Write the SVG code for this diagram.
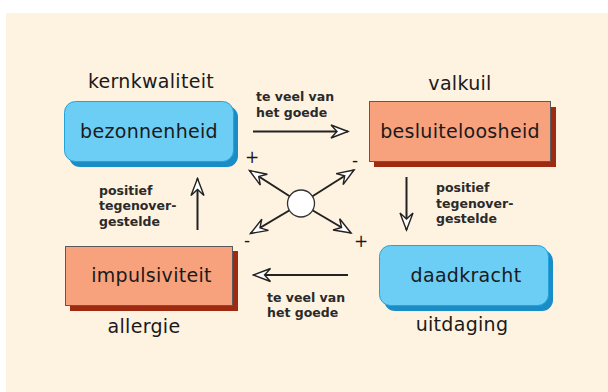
<svg xmlns="http://www.w3.org/2000/svg" width="608" height="392" viewBox="0 0 608 392">
  <style>
    .big { font-family: "DejaVu Sans", Verdana, sans-serif; font-size: 19px; fill: #1a1a1a; text-anchor: middle; letter-spacing: 0.3px; }
    .small { font-family: "DejaVu Sans", Verdana, sans-serif; font-size: 12.5px; font-weight: bold; fill: #2a2a2a; }
    .sign { font-family: "DejaVu Sans", Verdana, sans-serif; font-size: 17px; fill: #1a1a1a; text-anchor: middle; }
    .blue { fill: #6ccdf5; stroke: #22a3dc; stroke-width: 1; }
    .blue-shadow { fill: #1a8cc6; }
    .salmon { fill: #f8a17d; stroke: #5a5a5a; stroke-width: 1; }
    .salmon-shadow { fill: #9e2a12; }
    .conn { stroke: #222; stroke-width: 2; fill: none; marker-end: url(#dart); }
  </style>
  <defs>
    <marker id="dart" viewBox="-19 -9 21 18" refX="0" refY="0" markerWidth="21" markerHeight="18" markerUnits="userSpaceOnUse" orient="auto">
      <path d="M0,0 L-17,-6.5 L-11,0 L-17,6.5 Z" fill="#fff" stroke="#222" stroke-width="1.4" stroke-linejoin="miter"/>
    </marker>
  </defs>

  <!-- background panel -->
  <rect x="6" y="13" width="602" height="379" fill="#fef2e1"/>

  <!-- top-left: core quality -->
  <g id="kernkwaliteit">
    <rect class="blue-shadow" x="69" y="106" width="169" height="61" rx="11"/>
    <rect class="blue" x="64.5" y="101.5" width="169" height="60" rx="11"/>
    <text class="big" x="149" y="138">bezonnenheid</text>
    <text class="big" x="151" y="88">kernkwaliteit</text>
  </g>

  <!-- top-right: pitfall -->
  <g id="valkuil">
    <rect class="salmon-shadow" x="374" y="107" width="182" height="60"/>
    <rect class="salmon" x="369.5" y="101.5" width="181" height="60"/>
    <text class="big" x="460" y="138">besluiteloosheid</text>
    <text class="big" x="460" y="89.5">valkuil</text>
  </g>

  <!-- bottom-left: allergy -->
  <g id="allergie">
    <rect class="salmon-shadow" x="70" y="251" width="168" height="60"/>
    <rect class="salmon" x="65.5" y="246.5" width="167" height="59"/>
    <text class="big" x="151.5" y="282">impulsiviteit</text>
    <text class="big" x="144" y="333">allergie</text>
  </g>

  <!-- bottom-right: challenge -->
  <g id="uitdaging">
    <rect class="blue-shadow" x="384" y="250" width="169" height="61" rx="11"/>
    <rect class="blue" x="379.5" y="245.5" width="169" height="60" rx="11"/>
    <text class="big" x="466" y="282">daadkracht</text>
    <text class="big" x="462" y="331">uitdaging</text>
  </g>

  <!-- connectors -->
  <g id="connectors">
    <line class="conn" x1="253" y1="131.5" x2="348" y2="131.5"/>
    <line class="conn" x1="406.5" y1="177" x2="406.5" y2="230"/>
    <line class="conn" x1="348" y1="275" x2="253.5" y2="275"/>
    <line class="conn" x1="197.5" y1="230" x2="197.5" y2="178.5"/>

    <line class="conn" x1="301" y1="203.5" x2="249.5" y2="170.5"/>
    <line class="conn" x1="301" y1="203.5" x2="354" y2="170"/>
    <line class="conn" x1="301" y1="203.5" x2="250.5" y2="233.5"/>
    <line class="conn" x1="301" y1="203.5" x2="351" y2="233"/>
    <circle cx="301" cy="203.5" r="13.5" fill="#fff" stroke="#333" stroke-width="1.3"/>

    <text class="small" x="256" y="101">te veel van</text>
    <text class="small" x="256" y="117">het goede</text>

    <text class="small" x="436" y="192">positief</text>
    <text class="small" x="436" y="207.5">tegenover-</text>
    <text class="small" x="436" y="223">gestelde</text>

    <text class="small" x="267" y="302">te veel van</text>
    <text class="small" x="267" y="317">het goede</text>

    <text class="small" x="99" y="195">positief</text>
    <text class="small" x="99" y="210">tegenover-</text>
    <text class="small" x="99" y="225.5">gestelde</text>

    <text class="sign" x="252" y="163">+</text>
    <text class="sign" x="355" y="166">-</text>
    <text class="sign" x="247" y="246">-</text>
    <text class="sign" x="361" y="247">+</text>
  </g>
</svg>
